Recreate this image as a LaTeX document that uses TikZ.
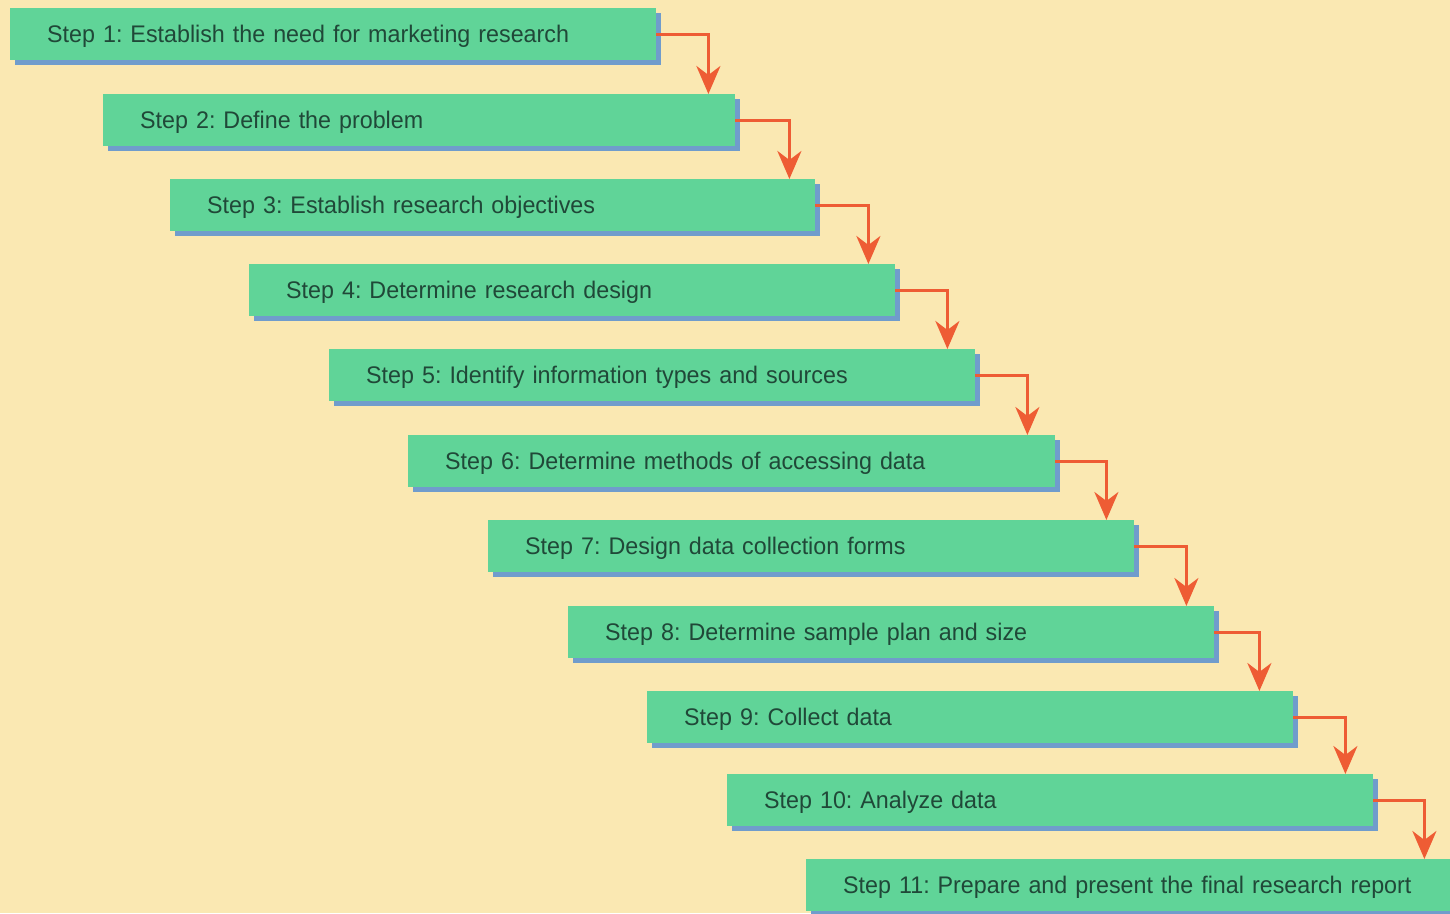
\documentclass[tikz,border=0pt]{standalone}
\usepackage{fontspec}
\setmainfont[FakeStretch=0.97]{Liberation Sans}
\usetikzlibrary{arrows.meta,positioning,calc,shadows}
\definecolor{paper}{RGB}{250,232,178}
\definecolor{mint}{RGB}{96,212,152}
\definecolor{shade}{RGB}{112,156,204}
\definecolor{ink}{RGB}{32,72,56}
\definecolor{flow}{RGB}{238,92,52}
\frenchspacing

\begin{document}
\begin{tikzpicture}[
		x=1pt, y=-1pt,
		>={Stealth[length=28pt,width=24pt,inset=9pt]},
		stepbox/.style={rectangle, anchor=north west, fill=mint, text=ink,
			minimum height=52pt, inner xsep=37pt, align=left,
			text height=20pt, text depth=4pt,
			font=\fontsize{24}{28}\selectfont,
			drop shadow={shadow xshift=5pt, shadow yshift=-5pt, fill=shade, opacity=1}},
		link/.style={->, flow, line width=3pt}
		]
		
		% --------------------------------------------------
		% Background
		% --------------------------------------------------
		\fill[paper] (0,0) rectangle (1450,913);
		\useasboundingbox (0,0) rectangle (1450,913);
		\clip (0,0) rectangle (1450,913);
		
		% --------------------------------------------------
		% Steps
		% --------------------------------------------------
		\foreach \k/\x/\y/\w/\txt in {
			1/10/8/646/{Step 1: Establish the need for marketing research},
			2/103/94/632/{Step 2: Define the problem},
			3/170/179/645/{Step 3: Establish research objectives},
			4/249/264/646/{Step 4: Determine research design},
			5/329/349/646/{Step 5: Identify information types and sources},
			6/408/435/647/{Step 6: Determine methods of accessing data},
			7/488/520/646/{Step 7: Design data collection forms},
			8/568/606/646/{Step 8: Determine sample plan and size},
			9/647/691/646/{Step 9: Collect data},
			10/727/774/646/{Step 10: Analyze data},
			11/806/859/720/{Step 11: Prepare and present the final research report}}
		{
			\node[stepbox, text width=\w pt-74pt] (S\k) at (\x,\y) {\txt};
		}
		
		% --------------------------------------------------
		% Arrows between steps
		% --------------------------------------------------
		\foreach \k/\n/\d in {1/2/52,2/3/54,3/4/53,4/5/52,5/6/52,6/7/51,7/8/52,8/9/45,9/10/52,10/11/51}
		{
			\coordinate (T\k) at ($(S\k.east)+(\d,0)$);
			\draw[link] (S\k.east) -- (T\k) -- (T\k |- S\n.north);
		}
		
	\end{tikzpicture}
\end{document}
